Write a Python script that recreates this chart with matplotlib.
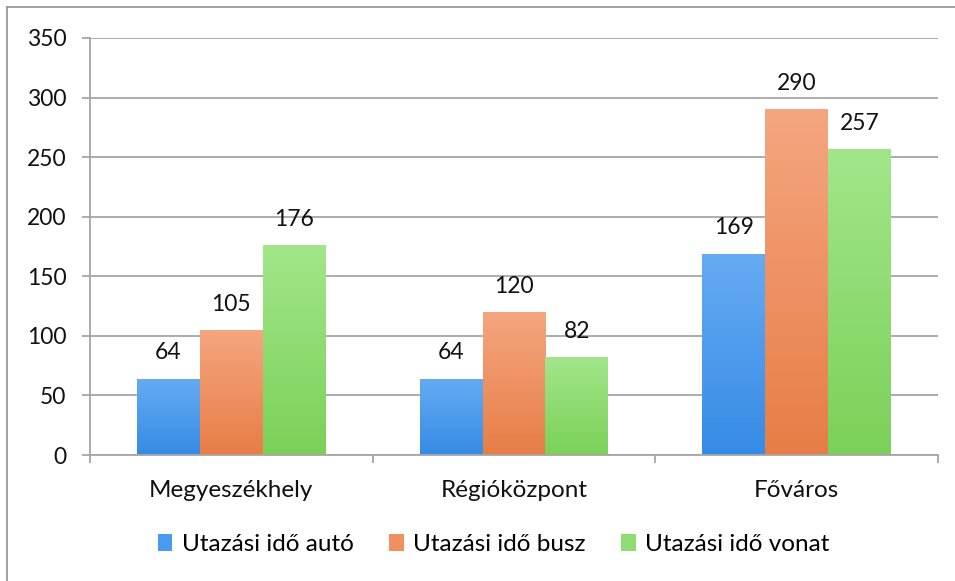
import numpy as np
import matplotlib
matplotlib.use("Agg")
import matplotlib.pyplot as plt
from matplotlib.colors import LinearSegmentedColormap
from matplotlib.lines import Line2D
from matplotlib.patches import Patch

plt.rcParams['font.family'] = ['Lato', 'DejaVu Sans']

categories = ["Megyeszékhely", "Régióközpont", "Főváros"]
series_names = ["Utazási idő autó", "Utazási idő busz", "Utazási idő vonat"]
auto = [64, 64, 169]
busz = [105, 120, 290]
vonat = [176, 82, 257]
series_values = [auto, busz, vonat]
y_ticks = [0, 50, 100, 150, 200, 250, 300, 350]

# (top colour, bottom colour) of each series' vertical gradient
gradients = [("#66ABF2", "#358BE6"),
             ("#F5A680", "#E77D46"),
             ("#A2E68A", "#7BD158")]
legend_colors = ["#4A9BEE", "#F09060", "#8FDC72"]

num_size = 16.5
text_size = 17.5

fig = plt.figure(figsize=(9.55, 5.81), dpi=100)
ax = fig.add_axes([90 / 955, 1 - 455 / 581, 848 / 955, 417 / 581])

n_series = len(series_values)
bar_w = 1 / (n_series + 1.5)
x = np.arange(len(categories))
grid_color = "#A6A6A6"

ax.set_xlim(-0.5, len(categories) - 0.5)
ax.set_ylim(0, 350)
ax.set_yticks(y_ticks)
ax.yaxis.grid(True, color=grid_color, linewidth=1.3)
ax.set_axisbelow(True)

for i, (vals, (c_top, c_bot)) in enumerate(zip(series_values, gradients)):
    offs = (i - (n_series - 1) / 2) * bar_w
    cmap = LinearSegmentedColormap.from_list(f"g{i}", [c_bot, c_top])
    bars = ax.bar(x + offs, vals, width=bar_w, color="none", edgecolor="none",
                  zorder=2)
    grad = np.linspace(0, 1, 256).reshape(-1, 1)
    for b, v in zip(bars, vals):
        x0 = b.get_x()
        im = ax.imshow(grad, cmap=cmap, origin="lower", aspect="auto",
                       extent=[x0, x0 + b.get_width(), 0, v], zorder=2,
                       interpolation="bicubic")
        im.set_clip_path(b)
        ax.annotate(f"{v}", (x0 + b.get_width() / 2, v),
                    xytext=(0, 11), textcoords="offset points",
                    ha="center", va="bottom", fontsize=num_size,
                    color="#111111")

ax.set_xlim(-0.5, len(categories) - 0.5)
ax.set_ylim(0, 350)

for s in ["top", "right"]:
    ax.spines[s].set_visible(False)
for s in ["left", "bottom"]:
    ax.spines[s].set_color(grid_color)
    ax.spines[s].set_linewidth(1.3)

ax.set_xticks(x)
ax.set_xticklabels(categories)
ax.set_xticks(np.arange(len(categories) + 1) - 0.5, minor=True)
ax.tick_params(axis="x", which="major", length=0, pad=18, labelsize=text_size,
               colors="#111111")
ax.tick_params(axis="x", which="minor", length=6, width=1.3, color=grid_color)
ax.tick_params(axis="y", length=6, width=1.3, color=grid_color, pad=11,
               labelsize=num_size, labelcolor="#111111")

handles = [Patch(facecolor=c, edgecolor="none") for c in legend_colors]
fig.legend(handles, series_names, loc="center", bbox_to_anchor=(0.517, 0.062),
           ncol=3, frameon=False, fontsize=text_size, handlelength=0.6,
           handleheight=0.7, handletextpad=0.4, columnspacing=1.45)

# outer chart frame (left and top edges)
fig.add_artist(Line2D([7 / 955, 7 / 955], [0, 1 - 7 / 581],
                      transform=fig.transFigure, color="#9A9A9A", linewidth=1.3))
fig.add_artist(Line2D([7 / 955, 1], [1 - 7 / 581, 1 - 7 / 581],
                      transform=fig.transFigure, color="#9A9A9A", linewidth=1.3))

fig.savefig("out.png", dpi=100, facecolor="white")
